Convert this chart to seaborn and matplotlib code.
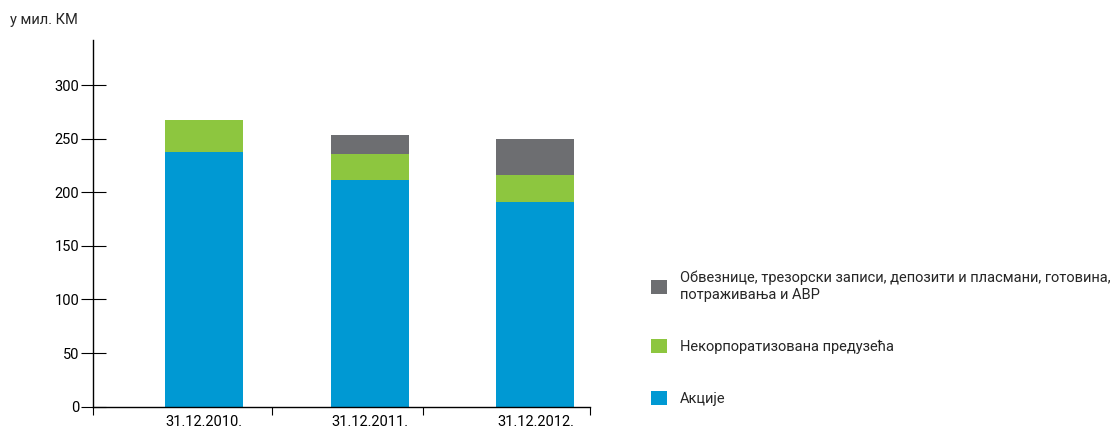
import pandas as pd
import numpy as np
import matplotlib
matplotlib.use('Agg')
import matplotlib.pyplot as plt
from matplotlib.patches import Patch
import seaborn as sns

# data (у мил. КМ)
dates = ['31.12.2010.', '31.12.2011.', '31.12.2012.']
akcije = [237.5, 211.0, 190.5]
nekorp = [30.0, 24.5, 25.5]
obveznice = [0.0, 17.5, 33.5]

labels = ['Обвезнице, трезорски записи, депозити и пласмани, готовина,\nпотраживања и АВР',
          'Некорпоратизована предузећа',
          'Акције']
colors = ['#6d6e71', '#8dc63f', '#0099d3']

sns.set_style('white')
plt.rcParams['font.family'] = ['Roboto', 'DejaVu Sans']

df = pd.DataFrame({'date': dates, 'akcije': akcije, 'nekorp': nekorp, 'obveznice': obveznice})
df['lvl1'] = df['akcije']
df['lvl2'] = df['lvl1'] + df['nekorp']
df['lvl3'] = df['lvl2'] + df['obveznice']

fig = plt.figure(figsize=(11.14, 4.3), dpi=100)
ax = fig.add_axes([93 / 1114, 23.4 / 430, (590 - 93) / 1114, (406.6 - 40) / 430])

# stacked bars: draw cumulative totals from the top down
for col, c in zip(['lvl3', 'lvl2', 'lvl1'], colors):
    sns.barplot(data=df, x='date', y=col, color=c, width=0.47, saturation=1,
                edgecolor='none', linewidth=0, ax=ax)

ax.set_xlim(-0.655, 2.33)
ax.set_ylim(0, 342)
ax.set_yticks(range(0, 301, 50))
ax.set_xlabel('')
ax.set_ylabel('')

sns.despine(ax=ax)
for s in ['left', 'bottom']:
    ax.spines[s].set_color('black')
    ax.spines[s].set_linewidth(1.0)

ax.tick_params(axis='y', left=True, direction='inout', length=18, width=0.8, colors='black',
               labelsize=10.5, pad=1)
ax.tick_params(axis='x', which='major', bottom=False, length=0, labelsize=10.5, pad=6, colors='black')
ax.set_xticks([-0.67, 0.41, 1.32, 2.33], minor=True)
ax.tick_params(axis='x', which='minor', bottom=True, direction='out', length=6, width=0.8,
               colors='black')

fig.text(10 / 1114, 1 - 20 / 430, 'у мил. КМ', fontsize=10.5, va='center', ha='left')

handles = [Patch(facecolor=c, edgecolor='none') for c in colors]
leg = fig.legend(handles, labels, loc='upper left', bbox_to_anchor=(645 / 1114, 1 - 265 / 430),
                 frameon=False, fontsize=10.5, handlelength=1.1, handleheight=1.1,
                 handletextpad=0.9, labelspacing=2.55, borderaxespad=0)

fig.savefig('out.png', dpi=100)
